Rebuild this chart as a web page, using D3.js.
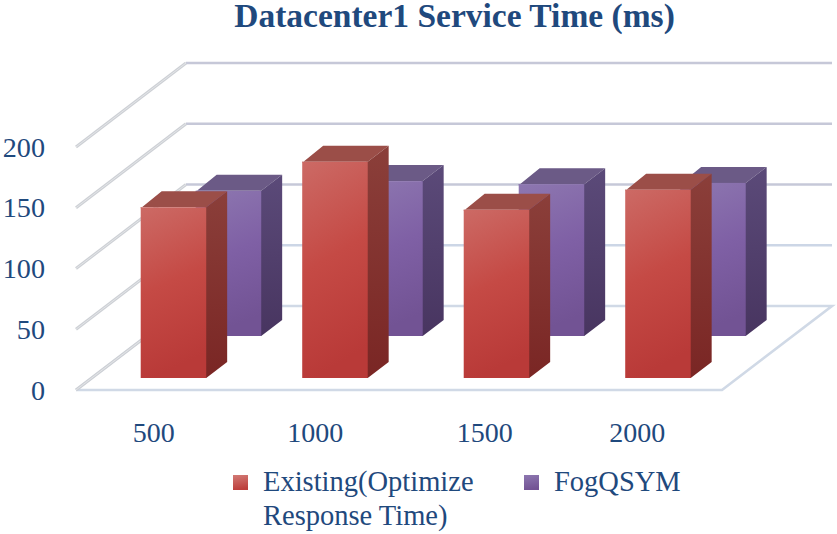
<!DOCTYPE html>
<html><head><meta charset="utf-8">
<style>html,body{margin:0;padding:0;background:#fff}svg{display:block}text{font-family:"Liberation Serif",serif;fill:#1f497d}</style>
<script src="https://cdn.jsdelivr.net/npm/d3@7/dist/d3.min.js"></script>
</head><body><svg id="c" width="837" height="534"></svg>
<script>
const categories=["500","1000","1500","2000"];
const existing=[140.5,178,138.5,155];
const fogqsym=[119.5,127.5,125,126];
const yTicks=[0,50,100,150,200];
const seriesNames=["Existing(Optimize","Response Time)","FogQSYM"];

const svg=d3.select("#c");
const W=646,H=243,X0=76,Y0=390,DX=110,DY=84;
const x=d3.scaleBand().domain(categories).range([X0,X0+W]);
const y=d3.scaleLinear().domain([0,200]).range([0,H]);
const defs=svg.append("defs");
function grad(id,stops,x2=0.18){
  const g=defs.append("linearGradient").attr("id",id).attr("x1",0).attr("y1",0).attr("x2",x2).attr("y2",1);
  stops.forEach(([o,c])=>g.append("stop").attr("offset",o).attr("stop-color",c));
}
grad("rf",[[0,"#cc6a65"],[0.5,"#c54a45"],[1,"#b93a38"]]);
grad("rs",[[0,"#8b3f3a"],[1,"#7a2624"]],0);
grad("pf",[[0,"#8d77b0"],[0.5,"#7f60a5"],[1,"#725394"]]);
grad("ps",[[0,"#5b4a79"],[1,"#483560"]],0);
grad("rl",[[0,"#d27a75"],[1,"#bd3f3c"]]);
grad("pl",[[0,"#8d77b0"],[1,"#735394"]]);

const line=d3.line();
const g=svg.append("g").attr("fill","none");
const floorPts=[[X0,Y0],[X0+W,Y0],[X0+W+DX,Y0-DY],[X0+DX,Y0-DY],[X0,Y0]];
g.append("path").attr("d",line(floorPts)).attr("stroke","#d0d9e6").attr("stroke-width",2.6).attr("fill","#fff");
yTicks.forEach(t=>{
  const yy=Y0-y(t);
  const col=t>=100?"#c6c8d8":"#ccd6e6";
  if(t>0){
    g.append("path").attr("d",line([[X0+DX,yy-DY],[X0+DX+W,yy-DY]])).attr("stroke",col).attr("stroke-width",2.6);
  }
  g.append("path").attr("d",line([[X0,yy],[X0+DX,yy-DY]])).attr("stroke","#cdd0d5").attr("stroke-width",3);
  g.append("path").attr("d",line([[X0,yy],[X0+DX,yy-DY]])).attr("stroke","#fff").attr("stroke-width",0.8).attr("stroke-opacity",.55);
  svg.append("text").attr("x",45).attr("y",yy+9.5).attr("text-anchor","end").attr("font-size",28.2).text(t);
});

const barW=65.5, inset=49, sideD=16;
const k=DX/DY, sideX=sideD*k;
function bar(cat,val,depth,front,side,top){
  const fx=x(cat)+inset+depth*k, base=Y0-depth, h=y(val), ty=base-h, r=fx+barW;
  const b=svg.append("g");
  b.append("path").attr("d",line([[fx,ty+1],[fx,ty],[r,ty],[r+sideX,ty-sideD],[fx+sideX,ty-sideD]])+"Z").attr("fill",top);
  b.append("path").attr("d",line([[r-1.5,ty],[r,ty],[r+sideX,ty-sideD],[r+sideX,base-sideD],[r,base],[r-1.5,base]])+"Z").attr("fill",side);
  b.append("rect").attr("x",fx).attr("y",ty).attr("width",barW).attr("height",h).attr("fill",front);
}
categories.forEach((c,i)=>bar(c,fogqsym[i],54,"url(#pf)","url(#ps)","#6b5a86"));
categories.forEach((c,i)=>bar(c,existing[i],12,"url(#rf)","url(#rs)","#9b4e48"));

const labelNudge=[-3,-3,5,-4];
categories.forEach((c,i)=>{
  svg.append("text").attr("x",x(c)+x.bandwidth()/2+labelNudge[i]).attr("y",442).attr("text-anchor","middle").attr("font-size",28).text(c);
});

svg.append("text").attr("x",454.5).attr("y",26.5).attr("text-anchor","middle").attr("font-size",33.5).attr("font-weight","bold").text("Datacenter1 Service Time (ms)");

svg.append("rect").attr("x",233).attr("y",475).attr("width",15).attr("height",15).attr("fill","url(#rl)");
svg.append("rect").attr("x",524).attr("y",475).attr("width",15).attr("height",15).attr("fill","url(#pl)");
svg.append("text").attr("x",263).attr("y",491).attr("font-size",28.5).text(seriesNames[0]);
svg.append("text").attr("x",263).attr("y",525).attr("font-size",28.5).text(seriesNames[1]);
svg.append("text").attr("x",554).attr("y",491).attr("font-size",28.5).text(seriesNames[2]);
</script></body></html>
